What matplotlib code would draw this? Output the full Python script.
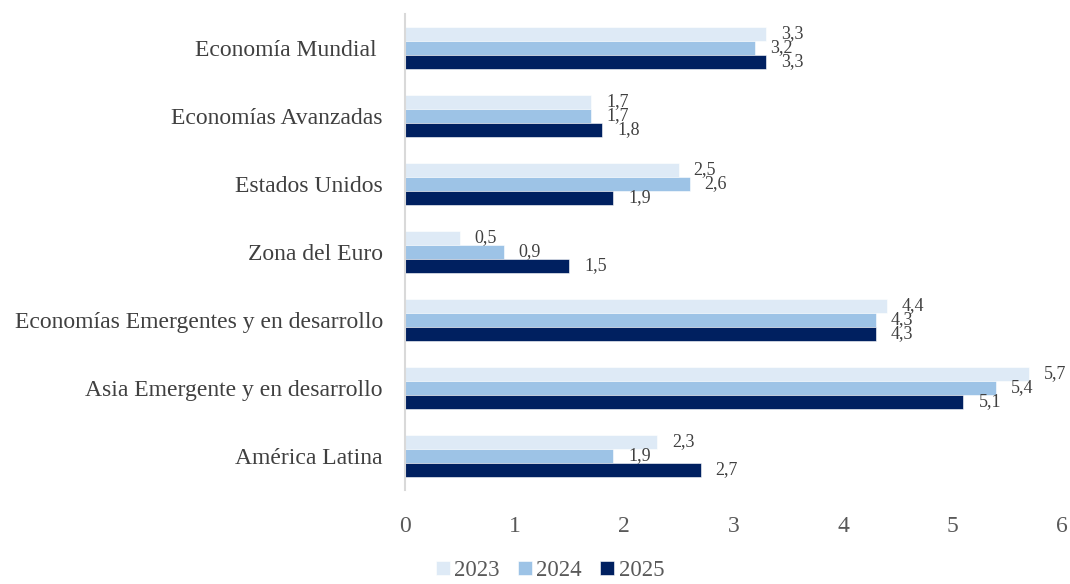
import matplotlib
matplotlib.use("Agg")
import matplotlib.pyplot as plt
import numpy as np

categories = ["Economía Mundial ", "Economías Avanzadas", "Estados Unidos", "Zona del Euro",
              "Economías Emergentes y en desarrollo", "Asia Emergente y en desarrollo", "América Latina"]
years = ["2023", "2024", "2025"]
v2023 = [3.3, 1.7, 2.5, 0.5, 4.4, 5.7, 2.3]
v2024 = [3.2, 1.7, 2.6, 0.9, 4.3, 5.4, 1.9]
v2025 = [3.3, 1.8, 1.9, 1.5, 4.3, 5.1, 2.7]
series = [v2023, v2024, v2025]
colors = ["#DEEAF6", "#9DC3E6", "#002060"]

plt.rcParams['font.family'] = ['Liberation Serif', 'DejaVu Serif']

fig = plt.figure(figsize=(10.7, 5.84), dpi=100)
ax = fig.add_axes([0.3785, 0.161, 0.614, 0.815])

n = len(categories)
y = np.arange(n)
h = 0.205
for i, (vals, c, yr) in enumerate(zip(series, colors, years)):
    pos = y + (i - 1) * h
    bars = ax.barh(pos, vals, height=h, color=c, label=yr, edgecolor='white', linewidth=0.4)
    for b, v in zip(bars, vals):
        ax.annotate(f"{v:.1f}".replace('.', ','), (v, b.get_y() + b.get_height() / 2),
                    xytext=(15, 0), textcoords='offset pixels',
                    ha='left', va='center', fontsize=13, color='#404040')

ax.set_ylim(n - 0.5, -0.5)
ax.set_xlim(0, 6)
ax.set_yticks(y)
ax.set_yticklabels(categories, fontsize=17, color='#404040')
ax.set_xticks(range(7))
ax.set_xticklabels([str(i) for i in range(7)], fontsize=17, color='#595959')
ax.tick_params(axis='both', length=0)
ax.tick_params(axis='y', pad=16)
ax.tick_params(axis='x', pad=19)
for s in ['top', 'right', 'bottom']:
    ax.spines[s].set_visible(False)
ax.spines['left'].set_color('#D9D9D9')
ax.spines['left'].set_linewidth(1.5)

leg = fig.legend(loc='lower center', bbox_to_anchor=(0.514, -0.03), ncol=3, frameon=False,
                 fontsize=16.5, handlelength=0.6, handleheight=0.6, handletextpad=0.2,
                 columnspacing=0.8)
for t in leg.get_texts():
    t.set_color('#595959')

fig.savefig("out.png", dpi=100)
